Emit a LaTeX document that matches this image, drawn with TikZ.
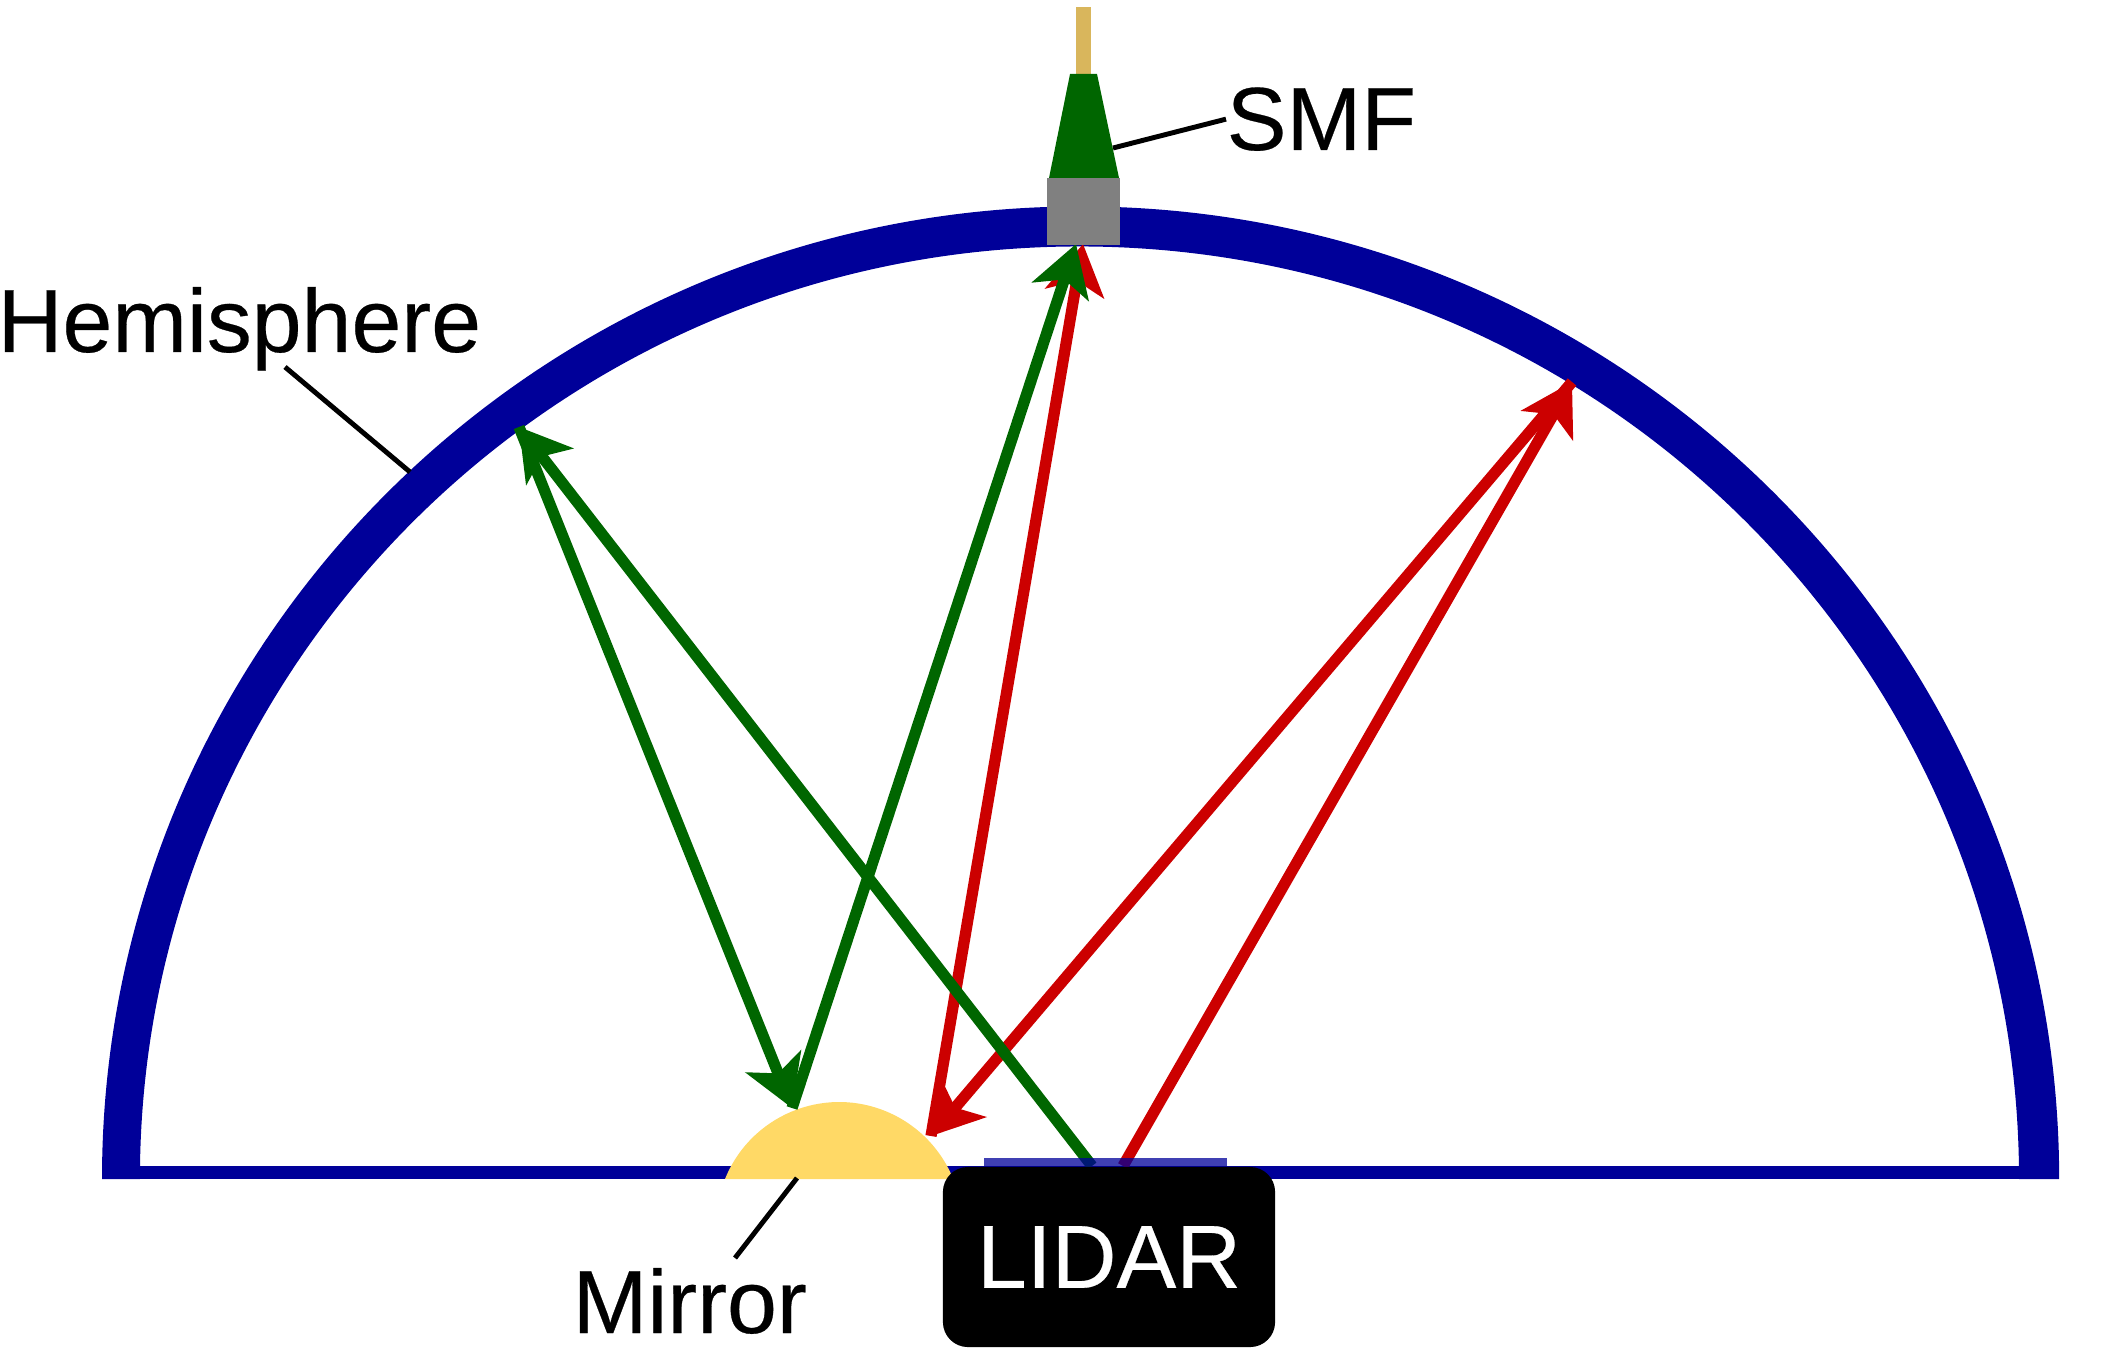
\documentclass[tikz,border=0pt]{standalone}
\usepackage{fontspec}
\setmainfont[FakeBold=0.3]{Liberation Sans}
\usetikzlibrary{arrows.meta}
\definecolor{domeblue}{HTML}{000099}
\definecolor{raygreen}{HTML}{006600}
\definecolor{rayred}{HTML}{CC0000}
\definecolor{mirrorgold}{HTML}{FFD966}
\definecolor{fibertan}{HTML}{D9B65C}
\tikzset{
 ray/.style={line width=3.2pt,-{Stealth[length=14.2pt,width=16.8pt,inset=3.6pt]}},
 leader/.style={line width=1.4pt,black},
 label/.style={inner sep=0pt,font=\fontsize{25.5}{30}\selectfont},
}
\begin{document}
\begin{tikzpicture}[x=0.01cm,y=-0.01cm]
 \useasboundingbox (0,0) rectangle (2101,1358);

 \fill[domeblue] (102,1179) arc[start angle=180,end angle=0,x radius=9.78cm,y radius=9.72cm]
  -- (2019,1179) arc[start angle=0,end angle=180,x radius=9.39cm,y radius=9.32cm] -- cycle;
 \fill[domeblue] (102,1166) rectangle (2058,1179);
 \fill[mirrorgold] (725,1179) arc[start angle=158,end angle=22,radius=1.23cm] -- cycle;

 \coordinate (h_g) at (519,427);
 \coordinate (h_r) at (1572,382);
 \coordinate (m_g) at (792,1108);
 \coordinate (m_r) at (931,1136);
 \coordinate (t_g) at (1076,244);
 \coordinate (t_r) at (1083,244);
 \coordinate (l_g) at (1092,1166);
 \coordinate (l_r) at (1123,1166);

 \draw[ray,rayred] (l_r) -- (h_r);
 \draw[ray,rayred] (h_r) -- (m_r);
 \draw[ray,rayred] (m_r) -- (t_r);
 \draw[ray,raygreen] (l_g) -- (h_g);
 \draw[ray,raygreen] (h_g) -- (m_g);
 \draw[ray,raygreen] (m_g) -- (t_g);

 \fill[fibertan] (1076,7) rectangle (1091,74);
 \fill[raygreen] (1070,74) -- (1097,74) -- (1119,178) -- (1049,178) -- cycle;
 \fill[gray] (1047,178) rectangle (1120,245);
 \fill[domeblue,opacity=.75] (984,1158) rectangle (1227,1170);
 \node[fill=black,text=white,rounded corners=.25cm,minimum width=3.32cm,minimum height=1.8cm,label] (lidar) at (1109,1257) {LIDAR};

 \node[label,anchor=base west] (hemi) at (-3,352) {Hemisphere};
 \node[label,anchor=base west] (mirror) at (572,1333) {Mirror};
 \node[label,anchor=base west] (smf) at (1226,150) {SMF};

 \coordinate (hemi_p) at (285,367);
 \coordinate (hemi_q) at (410,472);
 \coordinate (mirror_p) at (797,1178);
 \coordinate (mirror_q) at (735,1258);
 \coordinate (smf_q) at (1113,148);

 \draw[leader] (hemi_p) -- (hemi_q);
 \draw[leader] (mirror_p) -- (mirror_q);
 \draw[leader] (smf.west) -- (smf_q);
\end{tikzpicture}
\end{document}
